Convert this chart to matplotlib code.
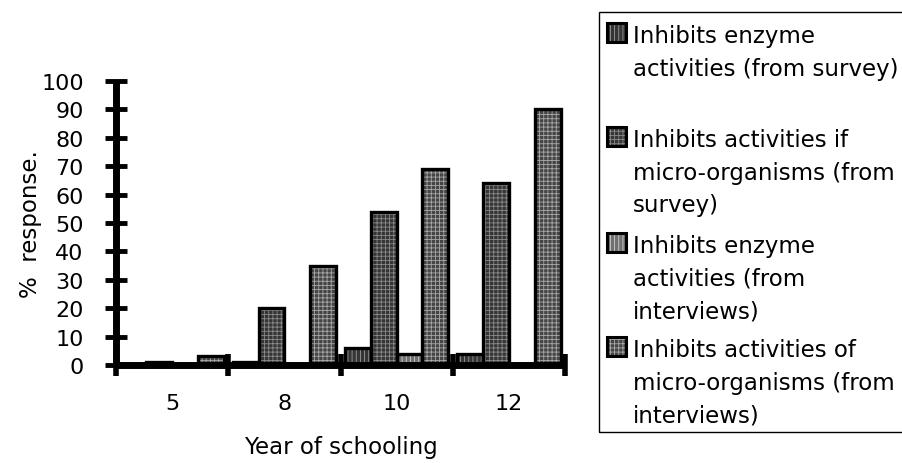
import matplotlib
matplotlib.use("Agg")
import matplotlib.pyplot as plt
from matplotlib.patches import Rectangle
import numpy as np

plt.rcParams['font.family'] = ['DejaVu Sans']
plt.rcParams['hatch.linewidth'] = 0.6

categories = ["5", "8", "10", "12"]
series_labels = [
    ["Inhibits enzyme", "activities (from survey)"],
    ["Inhibits activities if", "micro-organisms (from", "survey)"],
    ["Inhibits enzyme", "activities (from", "interviews)"],
    ["Inhibits activities of", "micro-organisms (from", "interviews)"],
]
enzyme_survey = [0, 1, 6, 4]
microbes_survey = [1, 20, 54, 64]
enzyme_interviews = [0, 0, 4, 0]
microbes_interviews = [3, 35, 69, 90]
series_values = [enzyme_survey, microbes_survey, enzyme_interviews, microbes_interviews]
yticks = list(range(0, 101, 10))

styles = [
    dict(face="#353535", hatch="||||", hc="#9a9a9a"),
    dict(face="#353535", hatch="++++", hc="#8a8a8a"),
    dict(face="#707070", hatch="||||", hc="#d0d0d0"),
    dict(face="#454545", hatch="++++", hc="#a8a8a8"),
]

W, H = 903, 464
fig = plt.figure(figsize=(W / 100, H / 100), dpi=100)
ax = fig.add_axes([116 / W, 1 - 366 / H, 449 / W, 284 / H])

x = np.arange(len(categories))
bw = 0.23
offsets = [-0.345, -0.115, 0.115, 0.345]
for vals, off, st in zip(series_values, offsets, styles):
    ax.bar(x + off, vals, bw, color=st["face"], edgecolor=st["hc"],
           hatch=st["hatch"], linewidth=0, zorder=2)
    ax.bar(x + off, vals, bw, fill=False, edgecolor="black",
           linewidth=2.4, zorder=3)

ax.set_xlim(-0.5, len(categories) - 0.5)
ax.set_ylim(0, 100)
for s in ["top", "right"]:
    ax.spines[s].set_visible(False)
for s in ["left", "bottom"]:
    ax.spines[s].set_linewidth(5)
    ax.spines[s].set_capstyle("butt")

ax.set_yticks(yticks)
ax.tick_params(axis="y", direction="inout", length=16.5, width=3.5,
               labelsize=16, pad=15)
ax.set_xticks(x)
ax.set_xticklabels(categories)
ax.set_xticks(np.arange(-0.5, len(categories)), minor=True)
ax.tick_params(axis="x", which="major", length=0, labelsize=16, pad=20)
ax.tick_params(axis="x", which="minor", direction="inout", length=16.5, width=4)

ax.set_ylabel("%  response.", fontsize=16.5)
ax.set_xlabel("Year of schooling", fontsize=16.5, labelpad=16)
ax.yaxis.set_label_coords(-0.165, 0.5)

def fx(px):
    return px / W

def fy(py):
    return 1 - py / H

fig.patches.append(Rectangle((fx(599), fy(433)), fx(905) - fx(599), fy(13) - fy(433),
                             transform=fig.transFigure, fill=False,
                             edgecolor="black", linewidth=1.0))
entry_baselines = [43, 147, 253, 357]
line_step = 32.7
for lines, base, st in zip(series_labels, entry_baselines, styles):
    fig.patches.append(Rectangle((fx(607), fy(base)), fx(19), 19 / H,
                                 transform=fig.transFigure, facecolor=st["face"],
                                 edgecolor=st["hc"], hatch=st["hatch"], linewidth=0))
    fig.patches.append(Rectangle((fx(607), fy(base)), fx(19), 19 / H,
                                 transform=fig.transFigure, fill=False,
                                 edgecolor="black", linewidth=2.2))
    for i, ln in enumerate(lines):
        fig.text(fx(633), fy(base + i * line_step), ln, fontsize=16.5,
                 va="baseline", ha="left")

fig.savefig("out.png", dpi=100)
